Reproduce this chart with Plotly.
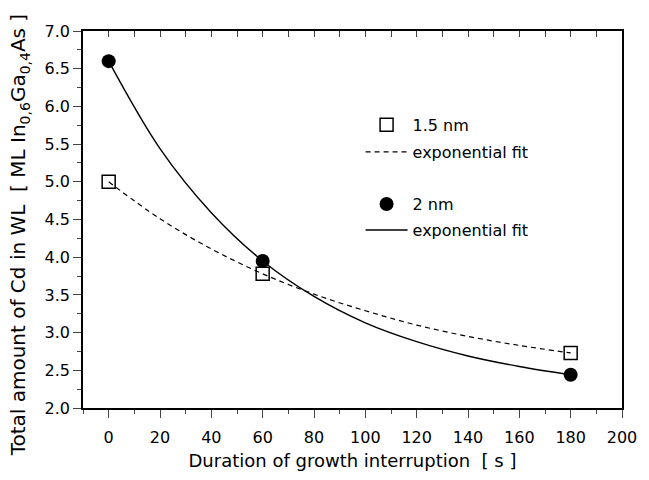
import plotly.graph_objects as go

# measured data
t_meas = [0, 60, 180]
cd_15nm = [5.0, 3.78, 2.73]
cd_2nm = [6.6, 3.95, 2.44]

# fit curves
t_fit = [0, 20, 40, 60, 80, 100, 120, 140, 160, 180]
fit_15nm = [5.00, 4.51, 4.11, 3.78, 3.51, 3.29, 3.10, 2.95, 2.83, 2.73]
fit_2nm = [6.60, 5.44, 4.59, 3.95, 3.48, 3.13, 2.88, 2.69, 2.55, 2.44]

x_ticks = [0, 20, 40, 60, 80, 100, 120, 140, 160, 180, 200]
y_ticks = [2.0, 2.5, 3.0, 3.5, 4.0, 4.5, 5.0, 5.5, 6.0, 6.5, 7.0]

x_title = "Duration of growth interruption  [ s ]"
y_title = "Total amount of Cd in WL  [ ML In<sub>0,6</sub>Ga<sub>0,4</sub>As ]"

FONT = "DejaVu Sans, Arial, sans-serif"
DASH = "5px,4px"

fig = go.Figure()

fig.add_trace(go.Scatter(x=t_fit, y=fit_15nm, mode="lines", name="exponential fit",
                         line=dict(color="black", width=1.2, dash=DASH, shape="spline"),
                         legend="legend2"))
fig.add_trace(go.Scatter(x=t_fit, y=fit_2nm, mode="lines", name="exponential fit",
                         line=dict(color="black", width=1.4, shape="spline"),
                         legend="legend4"))
fig.add_trace(go.Scatter(x=t_meas, y=cd_15nm, mode="markers", name="1.5 nm",
                         marker=dict(symbol="square-open", size=13, color="black",
                                     line=dict(width=1.5, color="black")),
                         legend="legend"))
fig.add_trace(go.Scatter(x=t_meas, y=cd_2nm, mode="markers", name="2 nm",
                         marker=dict(symbol="circle", size=14, color="black"),
                         legend="legend3"))
# invisible trace so the top axis is drawn
fig.add_trace(go.Scatter(x=[None], y=[None], xaxis="x2", showlegend=False,
                         hoverinfo="skip", mode="markers"))

def leg(y):
    return dict(x=0.515, y=y, xanchor="left", yanchor="middle",
                bgcolor="rgba(0,0,0,0)", font=dict(size=16, family=FONT),
                itemwidth=42)

fig.update_layout(
    width=649, height=480,
    margin=dict(l=83, r=16, t=31, b=72),
    paper_bgcolor="white", plot_bgcolor="white",
    font=dict(family=FONT, size=16, color="black"),
    showlegend=True,
    legend=leg(0.751),
    legend2=leg(0.679),
    legend3=leg(0.541),
    legend4=leg(0.472),
    xaxis=dict(range=[-10, 200], tickvals=x_ticks, ticks="outside", ticklen=8,
               tickwidth=1.2, showline=True, linecolor="black", linewidth=1.5,
               mirror=True, showgrid=False, zeroline=False,
               minor=dict(dtick=10, tick0=0, ticks="outside", ticklen=4, tickwidth=1.2),
               ticklabelstandoff=6,
               title=dict(text=x_title, standoff=8, font=dict(size=18))),
    xaxis2=dict(range=[-10, 200], overlaying="x", side="top", tick0=0, dtick=10,
                ticks="inside", ticklen=6, tickwidth=1.2, showticklabels=False,
                showline=False, showgrid=False, zeroline=False),
    yaxis=dict(range=[2.0, 7.0], tickvals=y_ticks, tickformat=".1f",
               ticks="outside", ticklen=8, tickwidth=1.2, showline=True,
               linecolor="black", linewidth=1.5, mirror=True, showgrid=False,
               zeroline=False,
               minor=dict(dtick=0.25, tick0=2.0, ticks="outside", ticklen=4, tickwidth=1.2)),
    annotations=[dict(text=y_title, textangle=-90, xref="paper", yref="paper",
                      x=-0.118, y=0.459, xanchor="center", yanchor="middle",
                      showarrow=False, font=dict(size=20, family=FONT))],
)

fig.write_html("out.html")
